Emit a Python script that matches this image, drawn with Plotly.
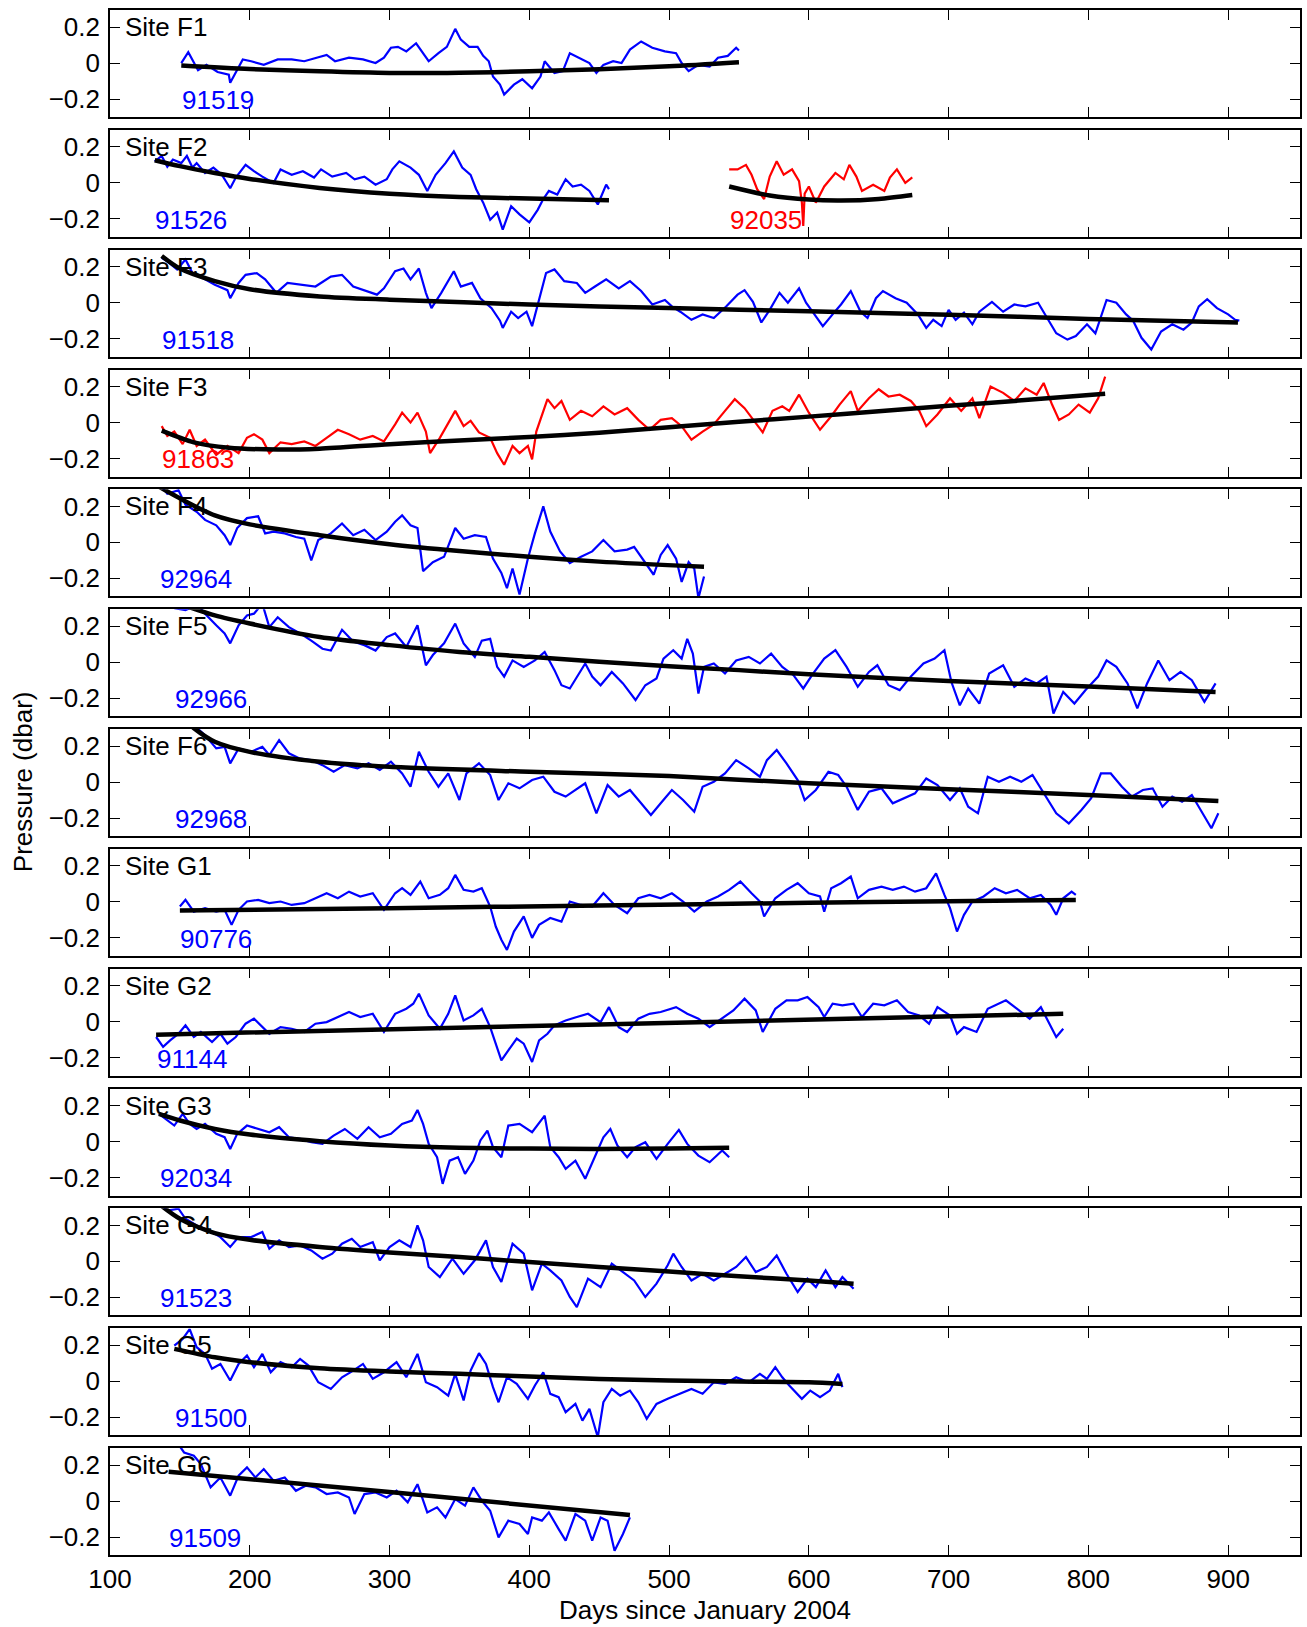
import plotly.graph_objects as go
from plotly.subplots import make_subplots

# ---------------- data (days since Jan 2004, pressure in dbar) ----------------
# Site F1, sensor 91519
d_91519 = [151,156,163,169,177,185,186,191,195,201,210,220,230,239,249,255,261,271,281,290,
           296,301,306,312,319,325,328,335,341,347,351,357,363,367,371,374,379,382,389,395,
           402,408,411,418,424,429,435,443,448,453,460,466,472,480,488,497,505,509,514,521,
           529,535,542,548,550]
p_91519 = [0.0,0.06,-0.04,-0.01,-0.05,-0.065,-0.11,-0.04,0.02,0.01,-0.01,0.02,0.02,0.01,0.03,0.045,0.01,0.03,0.02,0.0,
           0.03,0.085,0.09,0.065,0.11,0.045,0.01,0.055,0.09,0.19,0.13,0.09,0.09,0.04,0.01,-0.075,-0.12,-0.175,-0.12,-0.09,
           -0.14,-0.075,0.01,-0.055,-0.045,0.055,0.03,0.0,-0.055,-0.01,0.01,0.0,0.075,0.12,0.085,0.065,0.055,0.0,-0.045,-0.01,
           -0.02,0.03,0.04,0.085,0.07]
fd_91519 = [151,200,250,300,350,400,450,500,550]
fp_91519 = [-0.013,-0.033,-0.046,-0.055,-0.054,-0.046,-0.034,-0.018,0.005]

# Site F2, sensor 91526
d_91526 = [132,137,141,145,151,155,159,162,168,174,180,186,190,197,203,209,217,222,230,238,
           246,251,259,269,275,282,290,298,302,307,315,321,327,333,340,346,352,358,362,367,
           372,377,381,387,393,400,406,410,414,420,426,431,437,443,449,455,457]
p_91526 = [0.12,0.15,0.09,0.13,0.11,0.15,0.085,0.11,0.055,0.085,0.045,-0.03,0.03,0.10,0.065,0.035,0.0,0.075,0.045,0.065,
           0.03,0.075,0.035,0.055,0.02,0.035,-0.01,0.02,0.075,0.12,0.085,0.045,-0.045,0.045,0.11,0.175,0.085,0.045,-0.035,-0.11,
           -0.205,-0.165,-0.26,-0.13,-0.175,-0.22,-0.15,-0.09,-0.045,-0.065,0.02,-0.02,-0.01,-0.045,-0.12,-0.01,-0.035]
fd_91526 = [132,150,175,200,250,300,350,400,457]
fp_91526 = [0.126,0.093,0.055,0.022,-0.028,-0.06,-0.078,-0.087,-0.096]

# Site F2, sensor 92035
d_92035 = [543,549,555,559,563,568,572,577,582,588,593,595,596,597,600,605,611,619,625,629,
           634,638,646,654,658,663,669,674]
p_92035 = [0.075,0.075,0.10,0.045,-0.035,-0.09,0.035,0.12,0.045,0.075,0.01,-0.11,-0.24,-0.06,-0.02,-0.11,-0.02,0.055,0.02,0.10,
           0.035,-0.045,-0.01,-0.045,0.03,0.075,0.0,0.03]
fd_92035 = [543,572,600,623,650,674]
fp_92035 = [-0.02,-0.07,-0.093,-0.098,-0.089,-0.067]

# Site F3, sensor 91518
d_91518 = [137,141,148,154,159,167,175,184,186,192,197,205,211,219,227,236,247,258,266,274,282,
           291,296,304,310,315,321,326,330,337,346,351,359,365,373,379,381,387,392,398,402,
           406,412,418,425,434,440,447,455,464,472,480,488,497,502,508,516,524,532,541,549,
           554,560,566,572,579,585,593,598,604,610,618,623,630,637,642,648,653,662,670,678,
           684,689,695,700,705,711,717,722,731,739,747,755,764,770,777,785,791,799,805,813,
           820,827,832,838,845,852,860,868,874,879,885,892,900,905,908]
p_91518 = [0.25,0.23,0.185,0.24,0.165,0.135,0.10,0.07,0.025,0.11,0.155,0.165,0.13,0.055,0.11,0.10,0.09,0.145,0.155,0.09,0.07,
           0.045,0.08,0.175,0.19,0.13,0.19,0.055,-0.03,0.055,0.175,0.09,0.11,0.025,-0.03,-0.10,-0.14,-0.05,-0.085,-0.05,-0.13,
           -0.01,0.165,0.185,0.12,0.11,0.055,0.09,0.13,0.08,0.12,0.065,-0.01,0.015,-0.02,-0.05,-0.095,-0.065,-0.085,-0.02,0.045,
           0.07,0.005,-0.11,-0.04,0.055,0.0,0.08,0.0,-0.065,-0.13,-0.055,-0.01,0.065,-0.05,-0.085,0.025,0.065,0.025,0.0,-0.065,
           -0.14,-0.095,-0.13,-0.04,-0.095,-0.055,-0.12,-0.05,0.005,-0.05,-0.01,-0.02,0.0,-0.075,-0.17,-0.205,-0.185,-0.12,-0.17,0.015,
           0.0,-0.065,-0.10,-0.195,-0.26,-0.16,-0.12,-0.15,-0.11,-0.02,0.02,-0.03,-0.065,-0.095,-0.10]
fd_91518 = [137,150,175,200,250,300,400,500,600,700,800,907]
fp_91518 = [0.26,0.19,0.12,0.075,0.035,0.017,-0.01,-0.03,-0.048,-0.067,-0.09,-0.11]

# Site F3, sensor 91863
d_91863 = [137,141,146,152,157,162,168,176,184,192,198,203,209,214,222,230,239,247,255,263,
           271,279,288,296,304,309,315,320,326,329,336,342,347,353,358,364,372,377,382,388,
           393,399,402,405,413,418,423,429,437,445,453,461,470,478,486,494,502,509,516,524,
           532,540,547,554,562,567,574,581,586,593,600,608,616,622,630,635,643,650,657,665,
           673,679,684,692,701,709,717,722,730,739,747,755,763,768,774,779,786,793,801,807,812]
p_91863 = [-0.02,-0.075,-0.05,-0.12,-0.04,-0.13,-0.095,-0.18,-0.13,-0.17,-0.085,-0.065,-0.095,-0.17,-0.11,-0.12,-0.105,-0.13,-0.085,-0.04,
           -0.065,-0.095,-0.075,-0.105,-0.01,0.055,0.0,0.055,-0.05,-0.17,-0.085,0.0,0.065,-0.02,0.01,-0.055,-0.085,-0.17,-0.235,-0.13,
           -0.17,-0.13,-0.205,-0.05,0.13,0.08,0.12,0.015,0.065,0.035,0.09,0.045,0.08,0.015,-0.04,0.015,0.025,-0.02,-0.095,-0.05,
           -0.01,0.065,0.13,0.08,0.0,-0.055,0.065,0.09,0.065,0.155,0.055,-0.04,0.035,0.10,0.175,0.065,0.135,0.185,0.145,0.155,
           0.12,0.065,-0.02,0.045,0.135,0.065,0.135,0.025,0.2,0.165,0.12,0.19,0.155,0.22,0.10,0.015,0.045,0.10,0.055,0.135,0.255]
fd_91863 = [137,160,185,220,250,300,350,400,450,500,550,600,650,700,750,812]
fp_91863 = [-0.045,-0.11,-0.14,-0.15,-0.145,-0.12,-0.10,-0.08,-0.057,-0.026,0.004,0.033,0.063,0.093,0.122,0.16]

# Site F4, sensor 92964
d_92964 = [135,141,149,154,162,168,176,182,186,191,198,206,211,217,225,233,239,244,249,258,
           266,274,282,290,298,304,309,315,320,324,331,339,347,353,361,369,374,380,384,388,
           393,399,404,410,415,422,429,437,445,453,461,470,475,483,489,494,499,505,509,514,
           518,521,525]
p_92964 = [0.33,0.27,0.29,0.21,0.17,0.125,0.095,0.04,-0.015,0.08,0.135,0.145,0.05,0.06,0.05,0.03,0.02,-0.10,0.013,0.05,
           0.105,0.04,0.07,0.013,0.06,0.115,0.15,0.095,0.08,-0.16,-0.11,-0.08,0.08,0.02,0.04,0.03,-0.09,-0.17,-0.255,-0.145,
           -0.29,-0.09,0.05,0.2,0.06,-0.05,-0.115,-0.08,-0.05,0.013,-0.05,-0.04,-0.025,-0.11,-0.18,-0.07,-0.015,-0.09,-0.22,-0.11,
           -0.145,-0.31,-0.19]
fd_92964 = [135,150,175,200,250,300,350,400,450,525]
fp_92964 = [0.31,0.245,0.15,0.10,0.04,-0.01,-0.048,-0.08,-0.107,-0.135]

# Site F5, sensor 92966
d_92966 = [146,154,163,168,176,182,186,192,198,203,209,214,220,228,236,244,252,258,266,274,
           282,290,298,304,312,320,326,331,339,347,353,361,366,372,377,382,388,396,404,411,
           418,423,429,434,440,445,451,459,467,476,483,491,496,503,509,513,517,521,525,532,
           540,548,557,565,573,581,589,596,603,611,619,627,635,643,649,657,665,673,682,690,
           697,702,708,714,722,729,739,747,755,763,770,775,782,790,798,807,813,820,828,835,
           842,850,858,866,874,883,891]
p_92966 = [0.30,0.29,0.32,0.27,0.205,0.16,0.105,0.205,0.26,0.27,0.325,0.195,0.25,0.195,0.16,0.12,0.075,0.065,0.18,0.115,
           0.095,0.065,0.14,0.16,0.085,0.205,-0.017,0.04,0.105,0.215,0.105,0.03,0.12,0.13,-0.026,-0.08,0.01,-0.026,0.01,0.057,
           -0.044,-0.128,-0.146,-0.08,-0.007,-0.08,-0.128,-0.054,-0.118,-0.21,-0.128,-0.09,0.02,0.067,0.02,0.13,0.048,-0.174,-0.026,-0.007,
           -0.063,0.01,0.03,-0.007,0.048,-0.026,-0.072,-0.146,-0.063,0.02,0.067,-0.026,-0.137,-0.054,-0.017,-0.128,-0.155,-0.08,-0.007,0.02,
           0.067,-0.11,-0.24,-0.146,-0.23,-0.063,-0.017,-0.137,-0.09,-0.118,-0.08,-0.285,-0.165,-0.23,-0.155,-0.08,0.01,-0.026,-0.118,-0.257,
           -0.118,0.01,-0.1,-0.054,-0.1,-0.22,-0.118]
fd_92966 = [146,175,200,250,300,350,400,450,500,550,600,700,800,891]
fp_92966 = [0.335,0.26,0.215,0.14,0.095,0.057,0.03,0.002,-0.022,-0.044,-0.067,-0.104,-0.135,-0.165]

# Site F6, sensor 92968
d_92968 = [146,152,160,168,176,182,186,192,201,209,214,221,228,236,244,252,260,268,277,285,
           293,301,309,315,321,328,335,342,350,355,364,372,378,385,393,402,410,418,426,433,
           440,448,456,464,472,480,487,494,502,510,518,524,532,540,548,557,565,570,577,584,
           592,597,605,614,621,627,635,643,652,660,668,676,684,692,701,708,714,721,728,736,
           744,752,760,768,777,786,795,802,809,816,824,831,839,846,853,860,867,874,883,888,893]
p_92968 = [0.33,0.33,0.317,0.26,0.187,0.196,0.104,0.187,0.168,0.196,0.15,0.233,0.16,0.13,0.122,0.094,0.057,0.094,0.076,0.104,
           0.067,0.113,0.048,-0.026,0.168,0.057,-0.026,0.048,-0.1,0.048,0.104,0.039,-0.1,-0.007,-0.035,0.011,0.03,-0.054,-0.081,-0.044,
           -0.007,-0.174,-0.017,-0.081,-0.044,-0.118,-0.183,-0.118,-0.044,-0.1,-0.165,-0.026,0.002,0.048,0.122,0.076,0.03,0.122,0.178,0.104,
           0.011,-0.1,-0.044,0.057,0.039,-0.026,-0.155,-0.054,-0.035,-0.118,-0.09,-0.063,0.02,-0.017,-0.1,-0.035,-0.137,-0.174,0.03,0.002,
           0.03,0.002,0.039,-0.063,-0.174,-0.23,-0.155,-0.09,0.048,0.048,-0.026,-0.081,-0.044,-0.035,-0.137,-0.081,-0.11,-0.072,-0.193,-0.257,-0.174]
fd_92968 = [146,160,175,200,250,300,400,500,600,700,800,893]
fp_92968 = [0.40,0.30,0.224,0.168,0.113,0.085,0.057,0.033,-0.007,-0.04,-0.072,-0.105]

# Site G1, sensor 90776
d_90776 = [150,154,160,168,176,182,187,192,198,206,214,222,230,239,247,255,263,271,279,288,
           296,304,309,315,322,328,336,342,347,353,360,366,372,376,380,384,389,396,402,407,
           415,423,429,437,445,453,461,470,478,486,494,502,510,518,527,535,543,551,559,565,
           568,576,584,592,600,608,611,616,623,630,635,643,652,660,668,676,684,691,697,701,
           706,711,717,725,733,741,749,758,766,773,777,782,788,791]
p_90776 = [-0.026,0.011,-0.054,-0.035,-0.054,-0.044,-0.128,-0.044,0.002,0.011,-0.007,0.002,-0.017,-0.007,0.02,0.048,0.02,0.057,0.03,0.048,
           -0.044,0.048,0.076,0.039,0.113,0.02,0.039,0.076,0.15,0.067,0.057,0.076,-0.026,-0.137,-0.21,-0.267,-0.165,-0.081,-0.2,-0.128,
           -0.09,-0.11,0.002,-0.017,-0.026,0.048,-0.017,-0.063,0.02,0.039,0.02,0.048,0.002,-0.054,0.002,0.03,0.067,0.113,0.048,0.002,
           -0.081,0.02,0.067,0.104,0.048,0.03,-0.054,0.076,0.104,0.141,0.02,0.067,0.085,0.067,0.085,0.057,0.076,0.159,0.039,-0.035,
           -0.165,-0.072,0.002,0.03,0.076,0.048,0.067,0.02,0.039,-0.017,-0.072,0.02,0.057,0.039]
fd_90776 = [150,300,450,600,700,791]
fp_90776 = [-0.048,-0.035,-0.02,-0.005,0.003,0.011]

# Site G2, sensor 91144
d_91144 = [133,138,143,149,154,160,165,173,179,184,190,197,203,209,214,222,230,239,247,255,
           263,271,279,288,296,304,312,317,321,328,336,342,347,353,360,366,372,376,380,385,
           391,396,402,407,413,418,426,434,442,451,457,464,470,478,486,494,505,513,521,529,
           538,546,554,562,567,576,584,592,599,607,611,617,624,632,638,646,654,663,671,679,
           686,692,701,706,711,720,728,736,741,749,758,766,771,777,782]
p_91144 = [-0.085,-0.14,-0.104,-0.067,-0.02,-0.085,-0.057,-0.113,-0.067,-0.122,-0.085,-0.011,0.017,-0.03,-0.067,-0.03,-0.039,-0.057,-0.011,-0.002,
           0.026,0.054,0.026,0.044,-0.057,0.044,0.072,0.1,0.156,0.035,-0.039,0.044,0.146,0.007,0.035,0.072,-0.03,-0.122,-0.215,-0.159,
           -0.094,-0.122,-0.224,-0.104,-0.067,-0.02,0.007,0.026,0.044,-0.002,0.081,-0.03,-0.057,0.017,0.044,0.054,0.081,0.044,0.017,-0.03,
           0.017,0.063,0.128,0.063,-0.057,0.072,0.119,0.119,0.137,0.081,0.026,0.1,0.091,0.1,0.026,0.1,0.091,0.119,0.054,0.035,
           -0.011,0.081,0.035,-0.067,-0.03,-0.057,0.072,0.1,0.119,0.072,0.017,0.081,0.007,-0.085,-0.039]
fd_91144 = [133,450,782]
fp_91144 = [-0.072,-0.015,0.044]

# Site G3, sensor 92034
d_92034 = [135,141,146,152,157,162,168,176,182,186,191,198,206,214,221,228,236,244,252,260,
           268,277,285,293,301,309,316,320,324,328,334,338,343,349,354,360,365,370,374,380,
           385,393,402,411,415,421,426,433,440,447,453,458,463,470,476,483,491,499,507,513,
           521,529,538,543]
p_92034 = [0.154,0.117,0.089,0.154,0.098,0.07,0.098,0.043,0.024,-0.041,0.043,0.089,0.07,0.052,0.08,0.024,0.015,-0.004,-0.013,0.033,
           0.07,0.015,0.08,0.024,0.043,0.098,0.117,0.176,0.098,-0.013,-0.087,-0.235,-0.106,-0.087,-0.18,-0.106,0.006,0.061,-0.031,-0.087,
           0.089,0.098,0.052,0.144,-0.031,-0.087,-0.152,-0.106,-0.207,-0.087,0.024,0.07,-0.022,-0.087,-0.031,-0.004,-0.096,-0.013,0.065,-0.013,
           -0.078,-0.115,-0.05,-0.087]
fd_92034 = [135,150,175,200,250,300,350,400,450,500,543]
fp_92034 = [0.154,0.117,0.07,0.039,0.002,-0.022,-0.035,-0.039,-0.041,-0.039,-0.035]

# Site G4, sensor 91523
d_91523 = [135,141,149,154,162,171,179,186,192,201,209,214,221,228,236,244,252,259,266,273,
           279,288,293,300,307,315,320,324,328,336,345,353,361,369,374,380,388,396,402,409,
           415,423,429,434,442,451,459,467,475,483,491,499,503,509,516,524,532,540,548,555,
           562,570,577,584,592,599,605,612,619,624,632]
p_91523 = [0.33,0.283,0.293,0.237,0.2,0.172,0.135,0.08,0.135,0.135,0.163,0.07,0.117,0.08,0.089,0.061,0.015,0.043,0.098,0.126,
           0.08,0.107,0.006,0.08,0.117,0.08,0.2,0.117,-0.031,-0.087,0.015,-0.069,0.006,0.117,-0.031,-0.115,0.098,0.043,-0.161,-0.013,
           -0.05,-0.106,-0.198,-0.254,-0.096,-0.143,-0.013,-0.059,-0.106,-0.198,-0.124,-0.022,0.043,-0.031,-0.106,-0.069,-0.106,-0.069,-0.031,0.024,
           -0.059,-0.031,0.033,-0.069,-0.17,-0.096,-0.143,-0.05,-0.143,-0.087,-0.152]
fd_91523 = [135,150,175,200,250,300,350,400,450,500,550,600,632]
fp_91523 = [0.32,0.237,0.157,0.12,0.08,0.05,0.024,-0.004,-0.031,-0.056,-0.083,-0.106,-0.124]

# Site G5, sensor 91500
d_91500 = [146,152,157,162,168,173,179,186,192,198,203,209,215,222,230,236,242,249,258,266,
           274,281,288,296,305,312,320,326,334,342,347,353,358,364,369,374,378,384,391,399,
           404,410,415,421,426,433,438,443,449,453,459,465,472,478,484,491,499,508,516,524,
           532,540,548,557,565,570,576,581,586,595,601,608,615,621,624]
p_91500 = [0.198,0.235,0.29,0.189,0.152,0.069,0.096,0.004,0.096,0.143,0.078,0.152,0.05,0.106,0.078,0.124,0.087,-0.006,-0.043,0.022,
           0.059,0.096,0.013,0.05,0.106,0.022,0.152,-0.006,-0.033,-0.08,0.041,-0.107,0.059,0.156,0.096,-0.033,-0.117,0.022,-0.015,-0.098,
           -0.024,0.05,-0.07,-0.089,-0.172,-0.126,-0.219,-0.154,-0.311,-0.117,-0.043,-0.08,-0.052,-0.117,-0.209,-0.126,-0.098,-0.07,-0.043,-0.07,
           -0.006,-0.015,0.022,-0.006,0.041,0.013,0.078,0.022,-0.024,-0.098,-0.052,-0.089,-0.052,0.041,-0.033]
fd_91500 = [146,175,200,250,300,350,400,450,500,550,600,624]
fp_91500 = [0.18,0.133,0.106,0.072,0.054,0.041,0.026,0.013,0.004,-0.002,-0.006,-0.015]

# Site G6, sensor 91509
d_91509 = [142,148,153,160,165,172,179,186,192,198,204,210,217,225,233,240,247,255,263,271,
           275,282,290,298,305,313,320,327,334,340,347,354,360,366,372,378,385,393,399,402,
           409,414,421,426,433,440,445,451,456,461,467,472]
p_91509 = [0.307,0.326,0.27,0.252,0.206,0.076,0.131,0.03,0.141,0.187,0.131,0.178,0.113,0.131,0.057,0.085,0.076,0.039,0.048,0.02,
           -0.072,0.039,0.048,0.02,0.057,-0.007,0.094,-0.063,-0.035,-0.091,0.011,-0.026,0.076,0.002,-0.054,-0.202,-0.109,-0.128,-0.183,-0.091,
           -0.109,-0.063,-0.156,-0.22,-0.072,-0.109,-0.22,-0.091,-0.109,-0.276,-0.183,-0.091]
fd_91509 = [142,300,472]
fp_91509 = [0.163,0.05,-0.078]

site_labels = ["Site F1", "Site F2", "Site F3", "Site F3", "Site F4", "Site F5", "Site F6",
               "Site G1", "Site G2", "Site G3", "Site G4", "Site G5", "Site G6"]

# panel -> list of (sensor id, days, values, fit days, fit values, colour)
BLUE, RED = "#0000ff", "#ff0000"
panels = [
    [("91519", d_91519, p_91519, fd_91519, fp_91519, BLUE)],
    [("91526", d_91526, p_91526, fd_91526, fp_91526, BLUE),
     ("92035", d_92035, p_92035, fd_92035, fp_92035, RED)],
    [("91518", d_91518, p_91518, fd_91518, fp_91518, BLUE)],
    [("91863", d_91863, p_91863, fd_91863, fp_91863, RED)],
    [("92964", d_92964, p_92964, fd_92964, fp_92964, BLUE)],
    [("92966", d_92966, p_92966, fd_92966, fp_92966, BLUE)],
    [("92968", d_92968, p_92968, fd_92968, fp_92968, BLUE)],
    [("90776", d_90776, p_90776, fd_90776, fp_90776, BLUE)],
    [("91144", d_91144, p_91144, fd_91144, fp_91144, BLUE)],
    [("92034", d_92034, p_92034, fd_92034, fp_92034, BLUE)],
    [("91523", d_91523, p_91523, fd_91523, fp_91523, BLUE)],
    [("91500", d_91500, p_91500, fd_91500, fp_91500, BLUE)],
    [("91509", d_91509, p_91509, fd_91509, fp_91509, BLUE)],
]

x_ticks = [100, 200, 300, 400, 500, 600, 700, 800, 900]
y_ticks = [-0.2, 0, 0.2]
y_ticktext = ["\u22120.2", "0", "0.2"]

# ---------------- figure ----------------
W, H = 1307, 1627
ML, MR, MT, MB = 110, 5, 10, 72
plot_h = H - MT - MB
panel_h = 107
gap = (plot_h - 13 * panel_h) / 12

fig = make_subplots(rows=13, cols=1, shared_xaxes=True, vertical_spacing=gap / plot_h)

FONT = "Liberation Sans, Arial, Helvetica, sans-serif"
FS = 26

for i, series in enumerate(panels):
    r = i + 1
    xs = "x" if r == 1 else f"x{r}"
    ys = "y" if r == 1 else f"y{r}"
    for sid, d, p, fd, fp, col in series:
        fig.add_trace(go.Scatter(x=d, y=p, mode="lines", line=dict(color=col, width=2.2),
                                 showlegend=False, hoverinfo="skip"), row=r, col=1)
    for sid, d, p, fd, fp, col in series:
        fig.add_trace(go.Scatter(x=fd, y=fp, mode="lines",
                                 line=dict(color="black", width=4.5, shape="spline", smoothing=0.8),
                                 showlegend=False, hoverinfo="skip"), row=r, col=1)
        fig.add_annotation(x=min(d[0], fd[0]) - 1, y=-0.205, xref=xs, yref=ys, text=sid,
                           showarrow=False, xanchor="left", yanchor="middle",
                           font=dict(family=FONT, size=FS, color=col))
    fig.add_annotation(x=109.5, y=0.2, xref=xs, yref=ys, text=site_labels[i], showarrow=False,
                       xanchor="left", yanchor="middle", font=dict(family=FONT, size=FS, color="black"))

    fig.update_yaxes(row=r, col=1, range=[-0.3, 0.295], tickvals=y_ticks, ticktext=y_ticktext,
                     ticks="inside", ticklen=10, tickwidth=1.2, tickcolor="black",
                     showline=True, linecolor="black", linewidth=1.6, mirror="ticks",
                     showgrid=False, zeroline=False, ticklabelstandoff=3,
                     tickfont=dict(family=FONT, size=FS, color="black"))
    fig.update_xaxes(row=r, col=1, range=[100, 951.4], tickvals=x_ticks,
                     ticks="inside", ticklen=10, tickwidth=1.2, tickcolor="black",
                     showline=True, linecolor="black", linewidth=1.6, mirror="ticks",
                     showgrid=False, zeroline=False,
                     tickfont=dict(family=FONT, size=FS, color="black"))

fig.update_xaxes(row=13, col=1, showticklabels=True, ticklabelstandoff=0)

fig.add_annotation(xref="paper", yref="paper", x=0.5, y=-(1610 - MT - plot_h) / plot_h,
                   text="Days since January 2004", showarrow=False, xanchor="center", yanchor="middle",
                   font=dict(family=FONT, size=FS, color="black"))
fig.add_annotation(xref="paper", yref="paper", x=(23 - ML) / (W - ML - MR), y=1 - (782 - MT) / plot_h,
                   text="Pressure (dbar)", showarrow=False, textangle=-90, xanchor="center", yanchor="middle",
                   font=dict(family=FONT, size=FS, color="black"))

fig.update_layout(width=W, height=H, margin=dict(l=ML, r=MR, t=MT, b=MB),
                  paper_bgcolor="white", plot_bgcolor="white", showlegend=False)

fig.write_html("out.html")
